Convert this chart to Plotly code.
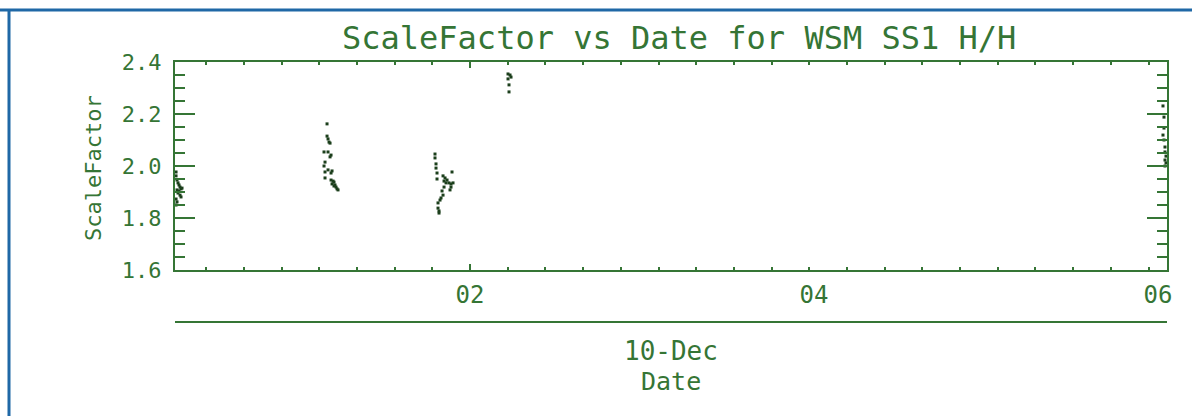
import plotly.graph_objects as go

# ---------------- data ----------------
DAY = "2009-12-10"

pass1_times = ["00:17:27", "00:17:27", "00:17:47", "00:18:08", "00:18:29", "00:18:50",
               "00:19:11", "00:17:47", "00:18:08", "00:18:50", "00:19:11", "00:17:27",
               "00:17:47", "00:17:27", "00:18:29", "00:19:32"]
pass1_values = [1.977, 1.962, 1.946, 1.935, 1.927, 1.919, 1.912, 1.908, 1.896, 1.888,
                1.881, 1.873, 1.862, 1.850, 1.904, 1.915]

pass2_times = ["01:10:07", "01:10:07", "01:10:28", "01:10:49", "01:11:10", "01:09:04",
               "01:10:28", "01:11:31", "01:11:10", "01:09:25", "01:09:04", "01:09:25",
               "01:10:28", "01:11:52", "01:11:31", "01:09:25", "01:11:31", "01:12:13",
               "01:12:33", "01:11:52", "01:12:54", "01:12:33", "01:13:15", "01:13:36",
               "01:13:57"]
pass2_values = [2.162, 2.115, 2.104, 2.092, 2.088, 2.054, 2.054, 2.042, 2.035, 2.015,
                2.000, 1.977, 1.985, 1.981, 1.973, 1.954, 1.946, 1.942, 1.938, 1.931,
                1.927, 1.923, 1.919, 1.912, 1.908]

pass3_times = ["01:47:47", "01:47:47", "01:48:08", "01:48:08", "01:48:29", "01:48:29",
               "01:50:35", "01:51:17", "01:51:59", "01:50:56", "01:51:38", "01:53:43",
               "01:52:40", "01:53:22", "01:54:04", "01:53:22", "01:53:01", "01:50:56",
               "01:50:14", "01:50:35", "01:49:53", "01:49:32", "01:48:50", "01:48:50",
               "01:49:11", "01:49:11"]
pass3_values = [2.046, 2.031, 2.008, 1.992, 1.973, 1.950, 1.962, 1.954, 1.946, 1.942,
                1.935, 1.977, 1.935, 1.931, 1.935, 1.919, 1.908, 1.919, 1.904, 1.888,
                1.877, 1.869, 1.858, 1.838, 1.827, 1.819]

pass4_times = ["02:13:15", "02:13:57", "02:14:18", "02:13:15", "02:13:36", "02:13:36"]
pass4_values = [2.354, 2.350, 2.342, 2.335, 2.312, 2.285]

pass5_times = ["06:01:44", "06:02:05", "06:02:05", "06:01:44", "06:02:05", "06:02:26",
               "06:02:26", "06:02:47", "06:02:26", "06:02:47", "06:02:26"]
pass5_values = [2.231, 2.188, 2.146, 2.119, 2.100, 2.073, 2.054, 2.038, 2.023, 2.012,
                2.000]

x_range = ["00:17:05", "06:03:08"]
y_range = [1.6, 2.4]
x_tick_times = ["02:00:00", "04:00:00", "06:00:00"]
x_tick_labels = ["02", "04", "06"]
x_minor_step_ms = 789000      # minor tick spacing on the time axis
title_text = "ScaleFactor vs Date for WSM SS1 H/H"
y_title = "ScaleFactor"
date_label = "10-Dec"
x_title = "Date"

# ---------------- build ----------------
def stamp(t):
    return f"{DAY} {t}"

all_times = [stamp(t) for t in pass1_times + pass2_times + pass3_times + pass4_times + pass5_times]
all_values = pass1_values + pass2_values + pass3_values + pass4_values + pass5_values

GREEN = "#357535"
DOT = "#1c3f1c"
BLUE = "#1f68a6"
FONT = "DejaVu Sans Mono"

W, H = 1192, 416
ML, MR, MT, MB = 175, 25, 62, 94
PW, PH = W - ML - MR, H - MT - MB


def px_x(px):
    return (px - ML) / PW


def px_y(py):
    return (H - MB - py) / PH


fig = go.Figure()
fig.add_trace(go.Scatter(
    x=all_times, y=all_values, mode="markers",
    marker=dict(symbol="square", size=3, color=DOT, line=dict(width=0)),
    xaxis="x", yaxis="y", showlegend=False, hoverinfo="x+y"))
# same points on the label axis (transparent) so that axis is drawn
fig.add_trace(go.Scatter(
    x=all_times, y=all_values, mode="markers",
    marker=dict(size=1, color="rgba(0,0,0,0)"),
    xaxis="x2", yaxis="y", showlegend=False, hoverinfo="skip"))

xr = [stamp(t) for t in x_range]

fig.update_layout(
    width=W, height=H,
    margin=dict(l=ML, r=MR, t=MT, b=MB, pad=0),
    paper_bgcolor="white", plot_bgcolor="white",
    font=dict(family=FONT, color=GREEN, size=22),
    showlegend=False,
    xaxis=dict(
        type="date", range=xr, anchor="y",
        showgrid=False, zeroline=False,
        showline=True, linecolor=GREEN, linewidth=2, mirror="ticks",
        ticks="inside", ticklen=6, tickwidth=1.5, tickcolor=GREEN,
        tickmode="array", tickvals=[stamp(x_tick_times[0])], showticklabels=False,
        minor=dict(ticks="inside", ticklen=3, tickwidth=1.5, tickcolor=GREEN,
                   tickmode="linear", tick0=stamp(x_tick_times[0]),
                   dtick=x_minor_step_ms, showgrid=False),
    ),
    xaxis2=dict(
        type="date", range=xr, overlaying="x", anchor="free", position=0,
        side="top", showgrid=False, zeroline=False,
        showline=True, linecolor=GREEN, linewidth=2,
        ticks="", tickmode="array",
        tickvals=[stamp(t) for t in x_tick_times], ticktext=x_tick_labels,
        tickfont=dict(family=FONT, color=GREEN, size=24),
        ticklabelstandoff=8,
    ),
    yaxis=dict(
        range=y_range, domain=[px_y(270), 1],
        showgrid=False, zeroline=False,
        showline=True, linecolor=GREEN, linewidth=2, mirror="ticks",
        ticks="inside", ticklen=20, tickwidth=1.5, tickcolor=GREEN,
        tickmode="linear", tick0=1.6, dtick=0.2, tickformat=".1f",
        tickfont=dict(family=FONT, color=GREEN, size=22),
        ticklabelstandoff=7,
        minor=dict(ticks="inside", ticklen=10, tickwidth=1.5, tickcolor=GREEN,
                   dtick=0.05, showgrid=False),
    ),
)

annotations = [
    dict(text=title_text, x=px_x(679), y=px_y(38), xref="paper", yref="paper",
         xanchor="center", yanchor="middle", showarrow=False,
         font=dict(family=FONT, size=32, color=GREEN)),
    dict(text=y_title, x=px_x(93), y=px_y(168), xref="paper", yref="paper",
         xanchor="center", yanchor="middle", showarrow=False, textangle=-90,
         font=dict(family=FONT, size=22, color=GREEN)),
    dict(text=date_label, x=px_x(671), y=px_y(351), xref="paper", yref="paper",
         xanchor="center", yanchor="middle", showarrow=False,
         font=dict(family=FONT, size=26, color=GREEN)),
    dict(text=x_title, x=px_x(671), y=px_y(381), xref="paper", yref="paper",
         xanchor="center", yanchor="middle", showarrow=False,
         font=dict(family=FONT, size=25, color=GREEN)),
]
fig.update_layout(annotations=annotations)

# blue frame of the page (top and left edges)
fig.add_shape(type="line", xref="paper", yref="paper",
              x0=px_x(0), x1=px_x(W), y0=px_y(10), y1=px_y(10),
              line=dict(color=BLUE, width=3))
fig.add_shape(type="line", xref="paper", yref="paper",
              x0=px_x(9), x1=px_x(9), y0=px_y(10), y1=px_y(H),
              line=dict(color=BLUE, width=3))

fig.write_html("out.html",
               config={"displayModeBar": False},
               post_script="document.body.style.margin='0';document.body.style.overflow='hidden';")
